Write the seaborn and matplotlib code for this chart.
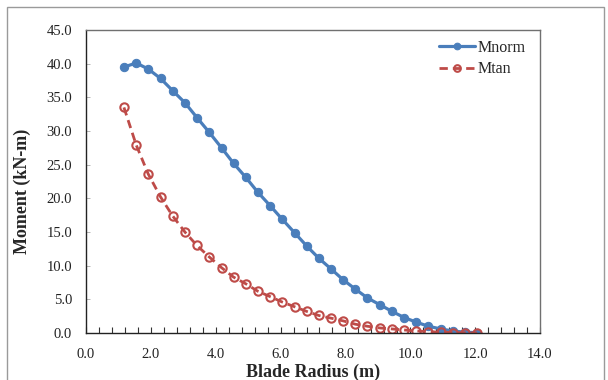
import numpy as np
import pandas as pd
import matplotlib
matplotlib.use("Agg")
import matplotlib.pyplot as plt
from matplotlib.patches import Rectangle
from matplotlib.ticker import MultipleLocator, FormatStrFormatter
import seaborn as sns

radius = [1.17, 1.55, 1.92, 2.30, 2.67, 3.05, 3.42, 3.80, 4.18, 4.55,
          4.93, 5.30, 5.68, 6.05, 6.43, 6.81, 7.18, 7.56, 7.93, 8.31,
          8.68, 9.06, 9.44, 9.81, 10.19, 10.56, 10.94, 11.31, 11.69, 12.06]
mnorm = [39.5, 40.1, 39.2, 37.8, 36.0, 34.2, 32.0, 29.8, 27.5, 25.2,
         23.1, 20.9, 18.9, 16.9, 14.9, 12.9, 11.1, 9.5, 7.9, 6.5,
         5.2, 4.2, 3.2, 2.3, 1.6, 1.0, 0.6, 0.3, 0.12, 0.05]
mtan = [33.5, 27.9, 23.6, 20.2, 17.4, 15.0, 13.0, 11.3, 9.7, 8.3,
        7.3, 6.2, 5.4, 4.6, 3.9, 3.2, 2.6, 2.2, 1.8, 1.3,
        1.0, 0.75, 0.6, 0.45, 0.3, 0.2, 0.12, 0.07, 0.03, 0.0]

sns.set_theme(style="white")
plt.rcParams['font.family'] = ['Liberation Serif', 'DejaVu Serif']

fig = plt.figure(figsize=(6.08, 3.80), dpi=100)
ax = fig.add_axes([86/608, 1 - 333/380, (540 - 86)/608, (333 - 30)/380])

# outer frame
fig.patches.append(Rectangle((7/608, -0.05), (604 - 7)/608, 1 - 7/380 + 0.05,
                             transform=fig.transFigure, fill=False,
                             edgecolor='#9a9a9a', linewidth=1.0))

df = pd.DataFrame({'r': radius, 'Mnorm': mnorm, 'Mtan': mtan})
blue = '#4A7EBB'
red = '#BE4B48'
sns.lineplot(data=df, x='r', y='Mnorm', ax=ax, color=blue, linewidth=2.3,
             marker='o', markersize=6, markeredgecolor=blue,
             markerfacecolor=blue, sort=False, label='Mnorm')
sns.lineplot(data=df, x='r', y='Mtan', ax=ax, color=red, linewidth=2.0,
             linestyle=(0, (3, 1.8)), marker='o', markersize=6,
             markeredgecolor=red, markerfacecolor='none', markeredgewidth=1.5,
             sort=False, label='Mtan')

ax.set_xlim(0, 14)
ax.set_ylim(0, 45)
ax.xaxis.set_major_locator(MultipleLocator(2))
ax.xaxis.set_minor_locator(MultipleLocator(0.4))
ax.yaxis.set_major_locator(MultipleLocator(5))
ax.xaxis.set_major_formatter(FormatStrFormatter('%.1f'))
ax.yaxis.set_major_formatter(FormatStrFormatter('%.1f'))
ax.tick_params(axis='x', which='both', direction='in', length=4, width=0.8,
               color='#333333', labelsize=10.5, pad=11, bottom=True)
ax.tick_params(axis='y', which='major', direction='in', length=3, width=0.6,
               color='#aaaaaa', labelsize=10.5, pad=10, left=True)
for lab in ax.get_xticklabels() + ax.get_yticklabels():
    lab.set_color('#222222')

for s in ['left', 'bottom']:
    ax.spines[s].set_color('#222222')
    ax.spines[s].set_linewidth(1.0)
for s in ['top', 'right']:
    ax.spines[s].set_color('#707070')
    ax.spines[s].set_linewidth(1.0)

ax.set_xlabel('Blade Radius (m)', fontsize=13, fontweight='bold')
ax.set_ylabel('Moment (kN-m)', fontsize=13, fontweight='bold')
ax.xaxis.set_label_coords(0.5, -0.100)
ax.yaxis.set_label_coords(-0.121, 0.467)

leg = ax.legend(loc='upper right', frameon=False, fontsize=11.5,
                handlelength=2.3, handletextpad=0.15, borderaxespad=0.2,
                labelspacing=0.35, bbox_to_anchor=(0.99, 1.0),
                markerscale=0.8)

fig.savefig('out.png', dpi=100)
